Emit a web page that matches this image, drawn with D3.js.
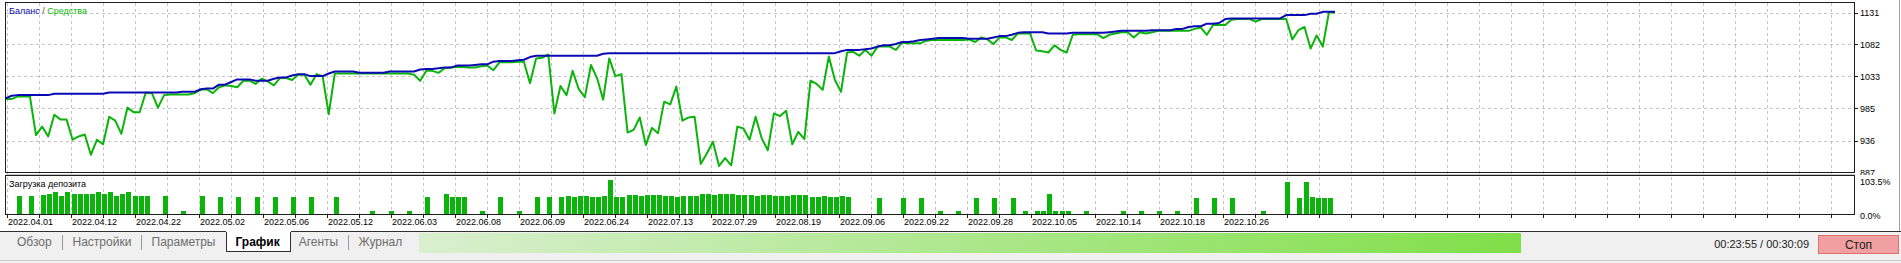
<!DOCTYPE html>
<html>
<head>
<meta charset="utf-8">
<script src="https://cdn.jsdelivr.net/npm/d3@7"></script>
<style>
body { margin: 0; background: #fff; overflow: hidden; }
svg { display: block; font-family: "Liberation Sans", Arial, sans-serif; }
</style>
</head>
<body>
<svg id="chart" width="1901" height="263"></svg>
<script>
// balance per deal
var balance = [
  1000, 1004, 1005, 1005, 1005, 1005, 1005, 1005, 1007, 1007,
  1007, 1007, 1007, 1007, 1007, 1007, 1007, 1009, 1009, 1009,
  1009, 1009, 1009, 1009, 1009, 1009, 1009, 1009, 1009, 1010,
  1010, 1010, 1014, 1015, 1015, 1021, 1021, 1025, 1029, 1029,
  1029, 1027, 1027, 1027, 1030, 1032, 1032, 1035, 1037, 1037,
  1034, 1034, 1034, 1038, 1041, 1041, 1041, 1041, 1039, 1039,
  1039, 1039, 1039, 1041, 1041, 1041, 1041, 1041, 1044, 1045,
  1045, 1046, 1047, 1047, 1050, 1050, 1050, 1051, 1052, 1052,
  1056, 1057, 1057, 1057, 1058, 1059, 1063, 1065, 1065, 1065,
  1065, 1065, 1065, 1065, 1065, 1065, 1065, 1065, 1068, 1069,
  1069, 1069, 1069, 1069, 1069, 1069, 1069, 1069, 1069, 1069,
  1069, 1069, 1069, 1069, 1069, 1069, 1069, 1069, 1069, 1069,
  1069, 1069, 1069, 1069, 1069, 1069, 1069, 1069, 1069, 1069,
  1069, 1069, 1069, 1069, 1069, 1069, 1069, 1072, 1074, 1074,
  1074, 1075, 1076, 1079, 1081, 1081, 1083, 1086, 1086, 1087,
  1089, 1090, 1091, 1092, 1092, 1092, 1092, 1092, 1091, 1091,
  1091, 1091, 1093, 1095, 1095, 1097, 1100, 1101, 1101, 1101,
  1101, 1099, 1099, 1099, 1099, 1100, 1100, 1100, 1100, 1100,
  1100, 1101, 1102, 1103, 1103, 1103, 1103, 1103, 1104, 1104,
  1104, 1104, 1106, 1106, 1109, 1110, 1110, 1114, 1114, 1115,
  1121, 1122, 1122, 1122, 1122, 1122, 1122, 1122, 1122, 1122,
  1127, 1127, 1127, 1127, 1129, 1129, 1132, 1132, 1132
];

// equity per deal
var equity = [
  999, 999, 1003, 1003, 1003, 944, 957, 942, 975, 968,
  968, 937, 942, 945, 914, 937, 930, 972, 966, 946,
  986, 979, 979, 1009, 1008, 986, 1005, 1006, 1006, 1006,
  1006, 1008, 1013, 1014, 1008, 1017, 1020, 1019, 1017, 1027,
  1027, 1022, 1030, 1026, 1020, 1031, 1031, 1028, 1036, 1036,
  1021, 1037, 1034, 976, 1038, 1038, 1038, 1038, 1038, 1038,
  1038, 1038, 1038, 1038, 1038, 1038, 1038, 1036, 1027, 1042,
  1042, 1039, 1046, 1047, 1048, 1048, 1047, 1047, 1049, 1050,
  1043, 1055, 1055, 1055, 1056, 1056, 1023, 1061, 1062, 1067,
  977, 1019, 1005, 1042, 1014, 1002, 1051, 1031, 998, 1061,
  1034, 1037, 948, 952, 971, 929, 955, 947, 995, 991,
  1018, 966, 971, 972, 900, 916, 934, 897, 909, 898,
  957, 954, 937, 972, 939, 921, 977, 973, 981, 930,
  949, 938, 1027, 1022, 1013, 1064, 1028, 1010, 1070, 1071,
  1065, 1074, 1065, 1079, 1079, 1079, 1074, 1085, 1084, 1084,
  1084, 1088, 1089, 1089, 1089, 1089, 1089, 1089, 1090, 1086,
  1093, 1090, 1083, 1093, 1093, 1089, 1099, 1099, 1099, 1073,
  1072, 1070, 1081, 1074, 1070, 1097, 1098, 1098, 1098, 1098,
  1092, 1097, 1099, 1101, 1101, 1093, 1101, 1099, 1101, 1103,
  1103, 1103, 1103, 1103, 1103, 1106, 1108, 1097, 1112, 1112,
  1112, 1120, 1121, 1121, 1121, 1117, 1121, 1121, 1121, 1121,
  1121, 1090, 1104, 1109, 1076, 1096, 1079, 1131, 1131
];

// deposit load, % (0 = no bar)
var depositLoad = [
  0, 0, 55, 0, 55, 0, 57, 60, 67, 55,
  67, 60, 60, 60, 60, 67, 60, 67, 55, 60,
  67, 55, 55, 55, 0, 0, 55, 0, 0, 9,
  0, 0, 55, 0, 0, 52, 0, 0, 52, 0,
  0, 52, 0, 0, 52, 0, 0, 52, 0, 0,
  52, 0, 0, 0, 52, 0, 0, 0, 0, 0,
  9, 0, 0, 9, 0, 0, 9, 0, 0, 52,
  0, 0, 61, 52, 52, 52, 0, 0, 9, 0,
  0, 52, 0, 0, 9, 0, 0, 52, 0, 52,
  0, 52, 55, 52, 55, 55, 52, 52, 55, 103.5,
  52, 52, 57, 57, 55, 57, 57, 57, 55, 55,
  52, 55, 55, 55, 61, 61, 57, 61, 61, 61,
  57, 57, 57, 55, 57, 57, 55, 55, 55, 57,
  57, 57, 52, 52, 55, 52, 52, 55, 52, 0,
  0, 0, 0, 49, 0, 0, 0, 49, 0, 0,
  49, 0, 0, 9, 0, 0, 9, 0, 0, 49,
  0, 0, 49, 0, 0, 49, 0, 9, 0, 9,
  9, 61, 9, 9, 9, 0, 0, 9, 0, 0,
  0, 0, 0, 9, 0, 0, 9, 0, 0, 9,
  0, 0, 9, 0, 0, 49, 0, 0, 49, 0,
  0, 49, 0, 0, 0, 0, 9, 0, 0, 0,
  97, 0, 49, 97, 52, 49, 49, 49, 0
];

var dateLabels = ["2022.04.01", "2022.04.12", "2022.04.22", "2022.05.02", "2022.05.06",
  "2022.05.12", "2022.06.03", "2022.06.08", "2022.06.09", "2022.06.24", "2022.07.13",
  "2022.07.29", "2022.08.19", "2022.09.06", "2022.09.22", "2022.09.28", "2022.10.05",
  "2022.10.14", "2022.10.18", "2022.10.26"];
var yTicks = [887, 935.8, 984.6, 1033.4, 1082.2, 1131];
var loadTicks = [103.5, 0];
var tabs = ["Обзор", "Настройки", "Параметры", "График", "Агенты", "Журнал"];
var selectedTab = "График";
var timeText = "00:23:55 / 00:30:09";
var stopText = "Стоп";

var W = 1901;
var left = 5.5, right = 1854.5;
var mainTop = 2.5, mainBottom = 172.5;
var loadTop = 175.5, loadBottom = 214.5;
var gridStart = 7, gridStep = 32;

var blue = "#0a0ab4", green = "#0ab40a";

var svg = d3.select("#chart");
var defs = svg.append("defs");
defs.append("clipPath").attr("id", "mainClip")
  .append("rect").attr("x", left).attr("y", mainTop).attr("width", right - left).attr("height", mainBottom - mainTop);
defs.append("clipPath").attr("id", "labelClip")
  .append("rect").attr("x", 0).attr("y", 0).attr("width", W).attr("height", loadTop - 0.5);
var grad = defs.append("linearGradient").attr("id", "progress");
grad.append("stop").attr("offset", "0%").attr("stop-color", "#d9efcf");
grad.append("stop").attr("offset", "100%").attr("stop-color", "#80df48");

var x = d3.scaleLinear().domain([0, balance.length - 1]).range([5.5, 1335]);
var y = d3.scaleLinear().domain([887, 1131]).range([172.5, 12.5]);
var yLoad = d3.scaleLinear().domain([0, 103.5]).range([214, 180]);

// background of the lower bar
svg.append("rect").attr("x", 0).attr("y", 232).attr("width", W).attr("height", 31).attr("fill", "#f0f0f0");

// grid
var gridX = d3.range(gridStart, right, gridStep);
svg.append("g").selectAll("line").data(gridX).enter().append("line")
    .attr("x1", function(d) { return d + 0.5; })
    .attr("x2", function(d) { return d + 0.5; })
    .attr("y1", mainTop)
    .attr("y2", loadBottom)
    .attr("stroke", "#c4c4c4")
    .attr("stroke-dasharray", "3,3")
    .attr("shape-rendering", "crispEdges");
svg.append("g").selectAll("line").data(yTicks.slice(1)).enter().append("line")
    .attr("x1", left)
    .attr("x2", right)
    .attr("y1", function(d) { return Math.round(y(d)) + 0.5; })
    .attr("y2", function(d) { return Math.round(y(d)) + 0.5; })
    .attr("stroke", "#c4c4c4")
    .attr("stroke-dasharray", "3,3")
    .attr("shape-rendering", "crispEdges");

// x ticks under the deposit panel
svg.append("g").selectAll("line").data(gridX).enter().append("line")
    .attr("x1", function(d) { return d + 0.5; })
    .attr("x2", function(d) { return d + 0.5; })
    .attr("y1", loadBottom)
    .attr("y2", loadBottom + 3)
    .attr("stroke", "#202020")
    .attr("shape-rendering", "crispEdges");

// legend
var legend = svg.append("text").attr("x", 9).attr("y", 11).attr("dy", "0.35em").style("font-size", "9px");
legend.append("tspan").attr("fill", blue).text("Баланс");
legend.append("tspan").attr("fill", "#505050").text(" / ");
legend.append("tspan").attr("fill", green).text("Средства");

svg.append("text").attr("x", 9).attr("y", 184).attr("dy", "0.35em")
    .style("font-size", "9px").attr("fill", "#000").text("Загрузка депозита");

// equity and balance lines
var line = d3.line()
    .x(function(d, i) { return x(i); })
    .y(function(d) { return y(d); });
var plot = svg.append("g").attr("clip-path", "url(#mainClip)");
plot.append("path").datum(equity)
    .attr("d", line)
    .attr("fill", "none")
    .attr("stroke", green)
    .attr("stroke-width", 2)
    .attr("stroke-linejoin", "round");
plot.append("path").datum(balance)
    .attr("d", line)
    .attr("fill", "none")
    .attr("stroke", blue)
    .attr("stroke-width", 2)
    .attr("stroke-linejoin", "round");

// deposit load bars
svg.append("g").selectAll("rect")
    .data(depositLoad.map(function(v, i) { return [i, v]; }).filter(function(d) { return d[1] > 0; }))
    .enter().append("rect")
    .attr("x", function(d) { return Math.round(x(d[0]) - 1); })
    .attr("width", 5)
    .attr("y", function(d) { return Math.round(yLoad(d[1])); })
    .attr("height", function(d) { return yLoad(0) - Math.round(yLoad(d[1])); })
    .attr("fill", "#0ab40a")
    .attr("shape-rendering", "crispEdges");

// frames
svg.append("rect").attr("x", left).attr("y", mainTop).attr("width", right - left).attr("height", mainBottom - mainTop)
    .attr("fill", "none").attr("stroke", "#1e1e1e").attr("shape-rendering", "crispEdges");
svg.append("rect").attr("x", left).attr("y", mainBottom + 1).attr("width", right - left).attr("height", 1)
    .attr("fill", "#c8c8c8").attr("shape-rendering", "crispEdges");
svg.append("rect").attr("x", left).attr("y", loadTop).attr("width", right - left).attr("height", loadBottom - loadTop)
    .attr("fill", "none").attr("stroke", "#1e1e1e").attr("shape-rendering", "crispEdges");

// right axis labels
var fmt = d3.format(".0f");
svg.append("g").attr("clip-path", "url(#labelClip)").selectAll("text").data(yTicks).enter().append("text")
    .attr("x", 1860)
    .attr("y", function(d) { return y(d); })
    .attr("dy", "0.35em")
    .style("font-size", "9px")
    .attr("fill", "#000")
    .text(function(d) { return fmt(d); });
svg.append("g").selectAll("line").data(yTicks.slice(1)).enter().append("line")
    .attr("x1", right)
    .attr("x2", right + 3)
    .attr("y1", function(d) { return Math.round(y(d)) + 0.5; })
    .attr("y2", function(d) { return Math.round(y(d)) + 0.5; })
    .attr("stroke", "#202020")
    .attr("shape-rendering", "crispEdges");
var pct = d3.format(".1f");
svg.append("g").selectAll("text").data(loadTicks).enter().append("text")
    .attr("x", 1860)
    .attr("y", function(d) { return yLoad(d) + 2; })
    .attr("dy", "0.35em")
    .style("font-size", "9px")
    .attr("fill", "#000")
    .text(function(d) { return pct(d) + "%"; });

// date labels, every other grid line
svg.append("g").selectAll("text").data(dateLabels).enter().append("text")
    .attr("x", function(d, i) { return gridStart + i * gridStep * 2 + 1; })
    .attr("y", 222)
    .attr("dy", "0.35em")
    .style("font-size", "9px")
    .attr("fill", "#000")
    .text(function(d) { return d; });

// right window edge
svg.append("line").attr("x1", 1899.5).attr("x2", 1899.5).attr("y1", 0).attr("y2", 232)
    .attr("stroke", "#a0a0a0").attr("shape-rendering", "crispEdges");

// tab bar
var tabG = svg.append("g");
var cursor = 17;
var tabLineSegments = [];
tabs.forEach(function(name, i) {
    var isSel = name == selectedTab;
    if (isSel) {
        var boxLeft = cursor - 9;
        var t = tabG.append("text").attr("x", cursor).attr("y", 242).attr("dy", "0.35em")
            .style("font-size", "12px").style("font-weight", "bold").attr("fill", "#000").text(name);
        var w = t.node().getComputedTextLength();
        var boxRight = cursor + w + 10;
        tabG.insert("path", "text")
            .attr("d", "M" + (boxLeft + 0.5) + ",232 V251.5 H" + (boxRight + 0.5) + " V232")
            .attr("fill", "#fff").attr("stroke", "#303030").attr("shape-rendering", "crispEdges");
        tabLineSegments.push([boxLeft, boxRight]);
        cursor = boxRight + 9;
    } else {
        var t2 = tabG.append("text").attr("x", cursor).attr("y", 242).attr("dy", "0.35em")
            .style("font-size", "12px").attr("fill", "#6e6e6e").text(name);
        var w2 = t2.node().getComputedTextLength();
        var next = tabs[i + 1];
        if (next == selectedTab || next === undefined) {
            cursor = cursor + w2 + 11 + 9;
        } else {
            var sx = Math.round(cursor + w2 + 10) + 0.5;
            tabG.append("line").attr("x1", sx).attr("x2", sx).attr("y1", 235).attr("y2", 250)
                .attr("stroke", "#9a9a9a").attr("shape-rendering", "crispEdges");
            cursor = sx + 10;
        }
    }
});
// line above the tab row, open over the selected tab
var seg = tabLineSegments[0];
svg.append("line").attr("x1", 0).attr("x2", seg[0]).attr("y1", 231.5).attr("y2", 231.5)
    .attr("stroke", "#303030").attr("shape-rendering", "crispEdges");
svg.append("line").attr("x1", seg[1] + 1).attr("x2", W).attr("y1", 231.5).attr("y2", 231.5)
    .attr("stroke", "#303030").attr("shape-rendering", "crispEdges");

// progress bar
svg.append("rect").attr("x", 419).attr("y", 233).attr("width", 1102).attr("height", 20)
    .attr("fill", "url(#progress)").attr("shape-rendering", "crispEdges");

svg.append("text").attr("x", 1809).attr("y", 244).attr("dy", "0.35em").attr("text-anchor", "end")
    .style("font-size", "11px").attr("fill", "#222").text(timeText);

svg.append("rect").attr("x", 1818.5).attr("y", 235.5).attr("width", 80).attr("height", 18)
    .attr("fill", "#f0a0a0").attr("stroke", "#e07070").attr("shape-rendering", "crispEdges");
svg.append("text").attr("x", 1858.5).attr("y", 244.5).attr("dy", "0.35em").attr("text-anchor", "middle")
    .style("font-size", "12px").attr("fill", "#222").text(stopText);

// status row separators
svg.append("line").attr("x1", 0).attr("x2", W).attr("y1", 260.5).attr("y2", 260.5)
    .attr("stroke", "#c8c8c8").attr("shape-rendering", "crispEdges");
</script>
</body>
</html>
